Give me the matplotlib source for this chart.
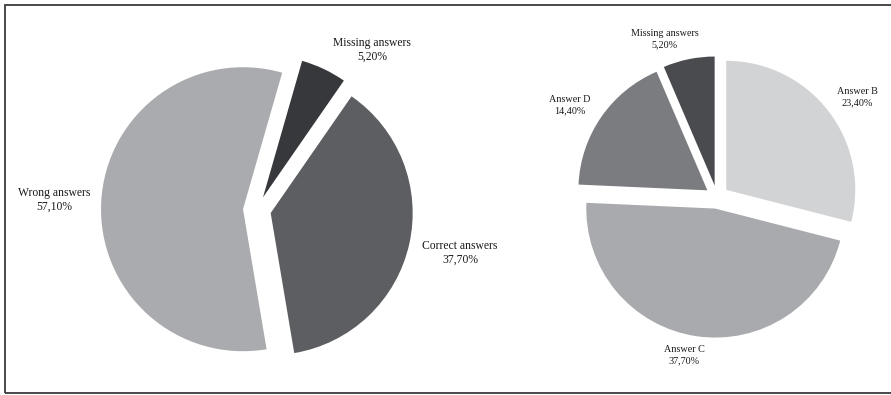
import matplotlib.pyplot as plt
from matplotlib.patches import Rectangle

plt.rcParams['font.family'] = ['Liberation Serif', 'DejaVu Serif']

# answer breakdown, overall result
result_labels = ['Missing answers', 'Correct answers', 'Wrong answers']
result_values = [5.2, 37.7, 57.1]
result_colors = ['#36383b', '#5d5e62', '#aaabae']

# answer breakdown by chosen option
option_labels = ['Answer B', 'Answer C', 'Answer D', 'Missing answers']
option_values = [23.4, 37.7, 14.4, 5.2]
option_colors = ['#d2d3d5', '#a9aaad', '#7b7c80', '#4a4b4f']


def pct(v):
    return ('%.2f%%' % v).replace('.', ',')


W, H = 891, 395
fig = plt.figure(figsize=(W / 100, H / 100), dpi=100)
ax = fig.add_axes([0, 0, 1, 1])

# pixel based coordinates, y going up
ax.pie(result_values, colors=result_colors, startangle=74, counterclock=False,
       center=(257, H - 210), radius=142, explode=[14] * 3,
       wedgeprops={'linewidth': 0})
ax.pie(option_values, colors=option_colors, startangle=90, counterclock=False,
       center=(717, H - 197), radius=129, explode=[11.7] * 4,
       wedgeprops={'linewidth': 0})
ax.set_xlim(0, W)
ax.set_ylim(0, H)
ax.set_aspect('auto')
ax.axis('off')

left_pos = {'Missing answers': (372, 50), 'Correct answers': (460, 253),
            'Wrong answers': (54, 200)}
for lab, val in zip(result_labels, result_values):
    x, y = left_pos[lab]
    ax.text(x, H - y, lab + '\n' + pct(val), ha='center', va='center',
            multialignment='center', fontsize=8.4, color='#1a1a1a')

right_pos = {'Missing answers': (665, 39), 'Answer D': (570, 105),
             'Answer B': (857, 97), 'Answer C': (684, 355)}
for lab, val in zip(option_labels, option_values):
    x, y = right_pos[lab]
    ax.text(x, H - y, lab + '\n' + pct(val), ha='center', va='center',
            multialignment='center', fontsize=7.3, color='#1a1a1a',
            linespacing=1.25)

# frame around the whole figure
ax.add_patch(Rectangle((5, H - 393), 890, 388, fill=False,
                       edgecolor='#3a3a3a', linewidth=1.3, clip_on=False))

fig.savefig('out.png', dpi=100)
